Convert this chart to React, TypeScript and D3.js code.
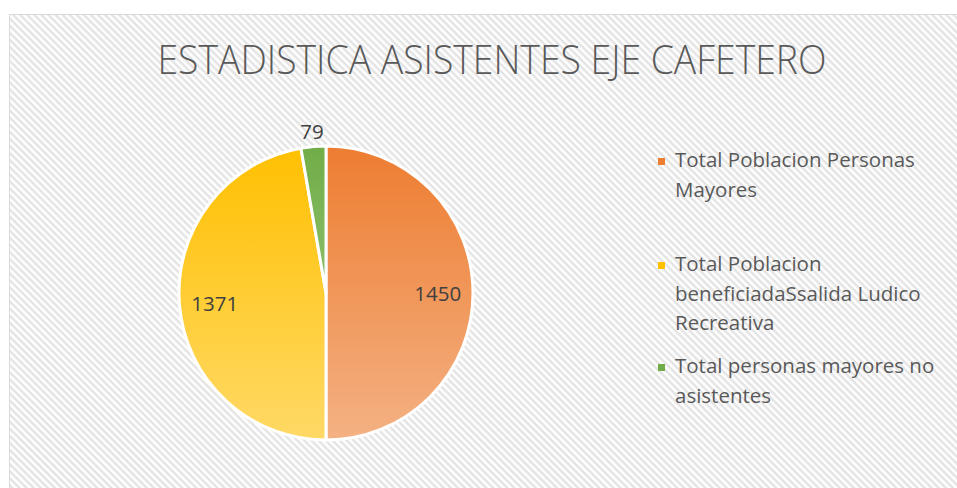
import React, { useEffect, useRef } from "react";
import * as d3 from "d3";

const categories = [
  "Total Poblacion Personas Mayores",
  "Total Poblacion beneficiadaSsalida Ludico Recreativa",
  "Total personas mayores no asistentes",
];
const values = [1450, 1371, 79];
const legendLines = [
  ["Total Poblacion Personas", "Mayores"],
  ["Total Poblacion", "beneficiadaSsalida Ludico", "Recreativa"],
  ["Total personas mayores no", "asistentes"],
];
const colorsTop = ["#ED7D31", "#FFC000", "#70AD47"];
const colorsBottom = ["#F4B183", "#FFD966", "#A9D18E"];

const W = 957;
const H = 488;
const cx = 326;
const cy = 293;
const R = 147;

const App = () => {
  const ref = useRef<SVGSVGElement>(null);

  useEffect(() => {
    const svg = d3.select(ref.current);
    svg.selectAll("*").remove();

    const defs = svg.append("defs");
    const pat = defs
      .append("pattern")
      .attr("id", "hatch")
      .attr("width", 5)
      .attr("height", 5)
      .attr("patternUnits", "userSpaceOnUse")
      .attr("patternTransform", "rotate(45)");
    pat.append("rect").attr("width", 5).attr("height", 5).attr("fill", "#ffffff");
    pat.append("rect").attr("width", 5).attr("height", 2.5).attr("fill", "#e4e4e4");

    colorsTop.forEach((c, i) => {
      const g = defs
        .append("linearGradient")
        .attr("id", "grad" + i)
        .attr("gradientUnits", "userSpaceOnUse")
        .attr("x1", 0)
        .attr("x2", 0)
        .attr("y1", -R)
        .attr("y2", R);
      g.append("stop").attr("offset", "0%").attr("stop-color", c);
      g.append("stop").attr("offset", "100%").attr("stop-color", colorsBottom[i]);
    });

    svg.append("rect").attr("width", W).attr("height", H).attr("fill", "#fff");

    svg
      .append("rect")
      .attr("x", 9.5)
      .attr("y", 14.5)
      .attr("width", W + 10)
      .attr("height", H + 10)
      .attr("fill", "url(#hatch)")
      .attr("stroke", "#d9d9d9");

    svg
      .append("text")
      .attr("x", 492)
      .attr("y", 74)
      .attr("text-anchor", "middle")
      .attr("font-family", "'Open Sans', sans-serif")
      .attr("font-weight", 300)
      .attr("font-size", 40)
      .attr("fill", "#595959")
      .attr("textLength", 669)
      .attr("lengthAdjust", "spacingAndGlyphs")
      .text("ESTADISTICA ASISTENTES EJE CAFETERO");

    const pie = d3.pie<number>().sort(null).value((d) => d);
    const arcs = pie(values);
    const arc = d3.arc<d3.PieArcDatum<number>>().innerRadius(0).outerRadius(R);
    const labelArc = d3.arc<d3.PieArcDatum<number>>().innerRadius(R * 0.76).outerRadius(R * 0.76);
    const outArc = d3.arc<d3.PieArcDatum<number>>().innerRadius(R * 1.11).outerRadius(R * 1.11);

    const g = svg.append("g").attr("transform", `translate(${cx},${cy})`);
    g.selectAll("path")
      .data(arcs)
      .enter()
      .append("path")
      .attr("d", arc)
      .attr("fill", (d, i) => `url(#grad${i})`)
      .attr("stroke", "#fff")
      .attr("stroke-width", 3)
      .attr("stroke-linejoin", "round");

    g.selectAll("text")
      .data(arcs)
      .enter()
      .append("text")
      .attr("transform", (d) => {
        const small = d.endAngle - d.startAngle < 0.3;
        const p = small ? outArc.centroid(d) : labelArc.centroid(d);
        return `translate(${p[0]},${p[1]})`;
      })
      .attr("text-anchor", "middle")
      .attr("dy", "0.4em")
      .attr("font-family", "'Open Sans', sans-serif")
      .attr("font-size", 20.5)
      .attr("fill", "#404040")
      .text((d) => d.data);

    const legendY = [167, 271, 373];
    const lg = svg.append("g");
    categories.forEach((c, i) => {
      const item = lg.append("g").attr("aria-label", c);
      item
        .append("rect")
        .attr("x", 658)
        .attr("y", legendY[i] - 9)
        .attr("width", 7)
        .attr("height", 7)
        .attr("fill", colorsTop[i]);
      legendLines[i].forEach((t, j) => {
        item
          .append("text")
          .attr("x", 675)
          .attr("y", legendY[i] + j * 29.5)
          .attr("font-family", "'Open Sans', sans-serif")
          .attr("font-size", 20.5)
          .attr("fill", "#595959")
          .text(t);
      });
    });
  }, []);

  return (
    <svg
      ref={ref}
      width={W}
      height={H}
      style={{ position: "absolute", left: 0, top: 0 }}
    />
  );
};

export default App;
